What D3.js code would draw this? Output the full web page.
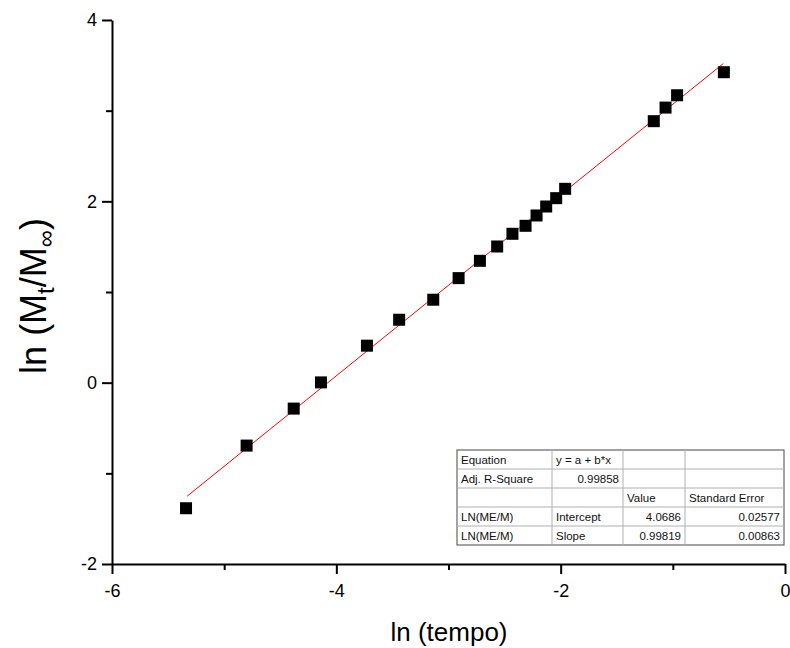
<!DOCTYPE html>
<html>
<head>
<meta charset="utf-8">
<script src="https://cdn.jsdelivr.net/npm/d3@7"></script>
<style>
  body { margin: 0; background: #fff; }
  text { font-family: "Liberation Sans", Arial, sans-serif; }
</style>
</head>
<body>
<div id="chart"></div>
<script>
let width = 790
let height = 648

// data
let lnTempo = [-5.34, -4.80, -4.38, -4.137, -3.727, -3.44, -3.136, -2.91, -2.72, -2.566,
               -2.43, -2.313, -2.215, -2.129, -2.04, -1.96, -1.17, -1.065, -0.962, -0.545]
let lnRatio = [-1.385, -0.694, -0.286, 0.003, 0.408, 0.694, 0.915, 1.153, 1.344, 1.502,
               1.642, 1.730, 1.844, 1.943, 2.035, 2.138, 2.884, 3.034, 3.17, 3.424]

let intercept = 4.0686
let slope = 0.99819
let fitRange = [-5.33, -0.55]

let xTicks = [-6, -5, -4, -3, -2, -1, 0]
let yTicks = [-2, -1, 0, 1, 2, 3, 4]

let tableRows = [
    ["Equation", "y = a + b*x", "", ""],
    ["Adj. R-Square", "0.99858", "", ""],
    ["", "", "Value", "Standard Error"],
    ["LN(ME/M)", "Intercept", "4.0686", "0.02577"],
    ["LN(ME/M)", "Slope", "0.99819", "0.00863"]
]

let svg = d3.select("#chart")
            .append("svg")
            .attr("width", width)
            .attr("height", height)

let xScale = d3.scaleLinear().domain([-6, 0]).range([112, 785])
let yScale = d3.scaleLinear().domain([-2, 4]).range([564, 20])

// minor ticks (no labels)
svg.append("g")
    .attr("transform", "translate(0,564)")
    .call(d3.axisBottom(xScale).tickValues(xTicks.filter(d => d % 2 != 0)).tickSize(6).tickSizeOuter(0).tickFormat(""))
    .call(g => g.select(".domain").remove())
svg.append("g")
    .attr("transform", "translate(112,0)")
    .call(d3.axisLeft(yScale).tickValues(yTicks.filter(d => d % 2 != 0)).tickSize(6).tickSizeOuter(0).tickFormat(""))
    .call(g => g.select(".domain").remove())

// major ticks
let xAxis = svg.append("g")
    .attr("transform", "translate(0,564)")
    .call(d3.axisBottom(xScale).tickValues(xTicks.filter(d => d % 2 == 0)).tickSize(10).tickSizeOuter(0).tickPadding(10).tickFormat(d3.format("d")))
let yAxis = svg.append("g")
    .attr("transform", "translate(112,0)")
    .call(d3.axisLeft(yScale).tickValues(yTicks.filter(d => d % 2 == 0)).tickSize(10).tickSizeOuter(0).tickPadding(5).tickFormat(d3.format("d")))

svg.selectAll(".tick line").attr("stroke", "#000").attr("stroke-width", 2)
svg.selectAll(".domain").attr("stroke", "#000").attr("stroke-width", 2)
svg.selectAll(".tick text").attr("font-size", 18).attr("fill", "#000")
    .style("font-family", "'Liberation Sans', Arial, sans-serif")
// minus sign as hyphen like the original
svg.selectAll(".tick text").text(function() { return d3.select(this).text().replace("−", "-") })

// fit line
svg.append("line")
    .attr("x1", xScale(fitRange[0]))
    .attr("y1", yScale(intercept + slope * fitRange[0]))
    .attr("x2", xScale(fitRange[1]))
    .attr("y2", yScale(intercept + slope * fitRange[1]))
    .attr("stroke", "#ff0000")
    .attr("stroke-width", 1)

// points
let size = 12
svg.selectAll("rect.pt")
    .data(d3.zip(lnTempo, lnRatio))
    .enter()
    .append("rect")
    .attr("class", "pt")
    .attr("x", d => xScale(d[0]) - size / 2)
    .attr("y", d => yScale(d[1]) - size / 2)
    .attr("width", size)
    .attr("height", size)
    .attr("fill", "#000")

// axis titles
svg.append("text")
    .attr("x", 449)
    .attr("y", 641)
    .attr("text-anchor", "middle")
    .attr("font-size", 26)
    .text("ln (tempo)")

let yTitle = svg.append("text")
    .attr("transform", "translate(46,296) rotate(-90)")
    .attr("text-anchor", "middle")
    .attr("font-size", 36)
yTitle.append("tspan").text("ln (M")
yTitle.append("tspan").attr("font-size", 24).attr("dy", 8).text("t")
yTitle.append("tspan").attr("dy", -8).text("/M")
yTitle.append("tspan").attr("font-size", 24).attr("dy", 8).text("∞")
yTitle.append("tspan").attr("dy", -8).text(")")

// result table
let colX = [457, 552, 623, 685, 784]
let rowY = [450, 469, 488, 507, 526, 545]
let table = svg.append("g")
table.append("rect")
    .attr("x", colX[0]).attr("y", rowY[0])
    .attr("width", colX[4] - colX[0]).attr("height", rowY[5] - rowY[0])
    .attr("fill", "#fff").attr("stroke", "#666").attr("stroke-width", 1.2)
rowY.slice(1, 5).forEach(y => {
    table.append("line").attr("x1", colX[0]).attr("x2", colX[4]).attr("y1", y).attr("y2", y)
        .attr("stroke", "#b0b0b0").attr("stroke-width", 1)
})
colX.slice(1, 4).forEach(x => {
    table.append("line").attr("x1", x).attr("x2", x).attr("y1", rowY[0]).attr("y2", rowY[5])
        .attr("stroke", "#b0b0b0").attr("stroke-width", 1)
})
let rightAlign = (r, c) => (r == 1 && c == 1) || (r >= 3 && c >= 2)
tableRows.forEach((row, r) => {
    row.forEach((cell, c) => {
        if (!cell) return
        let ra = rightAlign(r, c)
        table.append("text")
            .attr("x", ra ? colX[c + 1] - 4 : colX[c] + 4)
            .attr("y", rowY[r] + 14)
            .attr("text-anchor", ra ? "end" : "start")
            .attr("font-size", 11.5)
            .attr("fill", "#111")
            .text(cell)
    })
})
</script>
</body>
</html>
